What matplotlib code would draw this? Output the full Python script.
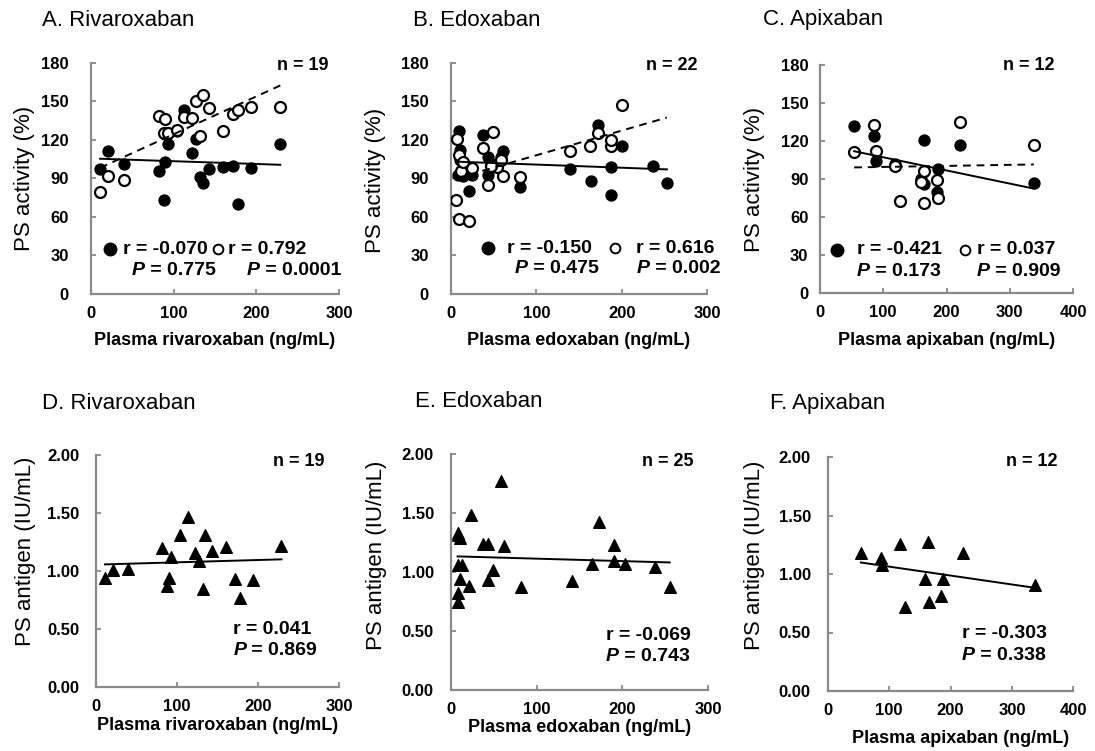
import numpy as np
import matplotlib
matplotlib.use('Agg')
import matplotlib.pyplot as plt

plt.rcParams['font.family'] = ['Liberation Sans', 'DejaVu Sans']

# ---- data ----
# rivaroxaban (A: PS activity, D: PS antigen)
riva_x = [11, 21, 40, 82, 88, 90, 93, 104, 113, 122, 127, 132, 135, 143, 160, 172, 178, 194, 229]
riva_act_filled = [97, 111, 101, 96, 73, 103, 117, 127, 143, 110, 121, 91, 86, 97, 99, 100, 70, 98, 117]
riva_act_open = [79, 92, 89, 139, 125, 136, 125, 128, 138, 137, 150, 123, 155, 145, 127, 140, 143, 146, 146]
riva_antigen = [0.94, 1.01, 1.02, 1.20, 0.87, 0.94, 1.12, 1.31, 1.47, 1.16, 1.09, 0.85, 1.31, 1.17,
                1.21, 0.93, 0.77, 0.92, 1.22]

# edoxaban (B: PS activity)
edo_x_filled = [9, 10, 10, 8, 14, 25, 21, 37, 43, 47, 43, 61, 59, 81, 140, 164, 172, 188, 188, 200, 237, 253]
edo_act_filled = [127, 112, 104, 93, 92, 93, 80, 124, 107, 101, 93, 111, 107, 83, 97, 88, 132, 99, 77, 115, 100, 86]
edo_x_open = [7, 6, 9, 21, 37, 49, 43, 61, 81, 54, 140, 163, 172, 188, 188, 200, 12, 9, 25, 14, 59, 47]
edo_act_open = [121, 73, 58, 57, 114, 126, 85, 92, 91, 99, 111, 115, 125, 115, 120, 147, 96, 108, 98, 103, 104, 100]

# edoxaban (E: PS antigen)
edo_ag_x = [59, 24, 8, 10.5, 38, 44, 62, 8, 13, 49, 10.5, 43, 21, 82, 8, 8, 141, 173, 190, 165, 190, 203,
            238, 255, 9]
edo_antigen = [1.77, 1.48, 1.33, 1.29, 1.24, 1.24, 1.22, 1.06, 1.06, 1.02, 0.94, 0.93, 0.88, 0.87, 0.82,
               0.75, 0.92, 1.42, 1.23, 1.07, 1.09, 1.07, 1.04, 0.87, 1.31]

# apixaban (C: PS activity, F: PS antigen)
apix_x = [54, 86, 88, 118, 126, 159, 164, 165, 185, 187, 221, 338]
apix_act_filled = [132, 124, 104, 102, 73, 90, 121, 86, 80, 98, 117, 87]
apix_act_open = [111, 133, 112, 100, 73, 88, 96, 71, 89, 75, 135, 117]
apix_antigen = [1.18, 1.14, 1.08, 1.26, 0.72, 0.96, 1.27, 0.76, 0.81, 0.96, 1.18, 0.91]

act_ticks = [0, 30, 60, 90, 120, 150, 180]
ag_ticks = [0.0, 0.5, 1.0, 1.5, 2.0]

W, H = 1095.0, 751.0
fig = plt.figure(figsize=(W / 100, H / 100), dpi=100)
GRAY = '#8a8a8a'
STAT = 14


def make_axes(l, r, t, b):
    return fig.add_axes([l / W, 1 - b / H, (r - l) / W, (b - t) / H])


def style(ax, xmax, ymax, yticks, yfmt, ypad):
    ax.set_xlim(0, xmax)
    ax.set_ylim(0, ymax)
    ax.set_xticks(np.arange(0, xmax + 1, 100))
    ax.set_yticks(yticks)
    ax.set_yticklabels([yfmt % v for v in yticks])
    for s in ['top', 'right']:
        ax.spines[s].set_visible(False)
    for s in ['left', 'bottom']:
        ax.spines[s].set_color(GRAY)
        ax.spines[s].set_linewidth(1.6)
    ax.tick_params(direction='in', length=3.5, width=1.3, color=GRAY, labelsize=12)
    ax.tick_params(axis='x', pad=8.5)
    ax.tick_params(axis='y', pad=ypad)
    for lab in ax.get_xticklabels() + ax.get_yticklabels():
        lab.set_fontweight('bold')


def trend(ax, x, y, dashed=False, xr=None):
    x = np.asarray(x, float)
    y = np.asarray(y, float)
    k, b = np.polyfit(x, y, 1)
    if xr is None:
        xr = x
    xs = np.array([min(xr), max(xr)])
    if dashed:
        ax.plot(xs, k * xs + b, color='black', lw=1.4, ls=(0, (4, 3)), zorder=4)
    else:
        ax.plot(xs, k * xs + b, color='black', lw=1.4, zorder=4)


def ptext(ax, x, y, val):
    t = ax.text(x, y, 'P', transform=ax.transAxes, ha='left', va='center',
                fontsize=STAT, fontweight='bold', fontstyle='italic')
    ax.annotate(' = ' + val, xy=(1, 0.5), xycoords=t, ha='left', va='center',
                fontsize=STAT, fontweight='bold')


def rtext(ax, x, y, s, size=STAT):
    ax.text(x, y, s, transform=ax.transAxes, ha='left', va='center', fontsize=size, fontweight='bold')


def circles(ax, x, y, open_=False):
    if open_:
        ax.scatter(x, y, s=62, facecolors='white', edgecolors='black', linewidths=1.6, zorder=3)
    else:
        ax.scatter(x, y, s=62, color='black', zorder=3)


def legend_dot(ax, x, y, open_=False):
    if open_:
        ax.plot([x], [y], 'o', ms=7, mfc='white', mec='black', mew=1.4, transform=ax.transAxes, clip_on=False)
    else:
        ax.plot([x], [y], 'o', ms=9, color='black', transform=ax.transAxes, clip_on=False)


def labels(ax, ylab, xlab, ylx, yly, xlx, xly):
    ax.set_ylabel(ylab, fontsize=16)
    ax.yaxis.set_label_coords(ylx, yly)
    ax.set_xlabel(xlab, fontsize=13, fontweight='bold')
    ax.xaxis.set_label_coords(xlx, xly)


# ---------- A ----------
axA = make_axes(91, 339, 63, 293.7)
style(axA, 300, 180, act_ticks, '%d', 16)
circles(axA, riva_x, riva_act_filled)
circles(axA, riva_x, riva_act_open, open_=True)
trend(axA, riva_x, riva_act_filled)
trend(axA, riva_x, riva_act_open, dashed=True)
legend_dot(axA, 0.077, 0.192)
rtext(axA, 0.129, 0.192, 'r = -0.070')
legend_dot(axA, 0.512, 0.192, open_=True)
rtext(axA, 0.552, 0.192, 'r = 0.792')
ptext(axA, 0.165, 0.10, '0.775')
ptext(axA, 0.629, 0.10, '0.0001')
rtext(axA, 0.75, 0.99, 'n = 19', 13)
labels(axA, 'PS activity (%)', 'Plasma rivaroxaban (ng/mL)', -0.227, 0.5, 0.5, -0.164)

# ---------- B ----------
axB = make_axes(451, 707, 63, 293.7)
style(axB, 300, 180, act_ticks, '%d', 16)
circles(axB, edo_x_filled, edo_act_filled)
circles(axB, edo_x_open, edo_act_open, open_=True)
edo_range = edo_x_filled + edo_x_open
trend(axB, edo_x_filled, edo_act_filled, xr=edo_range)
trend(axB, edo_x_open, edo_act_open, dashed=True, xr=edo_range)
legend_dot(axB, 0.146, 0.197)
rtext(axB, 0.217, 0.197, 'r = -0.150')
legend_dot(axB, 0.64, 0.197, open_=True)
rtext(axB, 0.723, 0.197, 'r = 0.616')
ptext(axB, 0.25, 0.11, '0.475')
ptext(axB, 0.725, 0.11, '0.002')
rtext(axB, 0.762, 0.99, 'n = 22', 13)
labels(axB, 'PS activity (%)', 'Plasma edoxaban (ng/mL)', -0.254, 0.49, 0.5, -0.164)

# ---------- C ----------
axC = make_axes(820, 1073, 65, 293)
style(axC, 400, 180, act_ticks, '%d', 8.4)
circles(axC, apix_x, apix_act_filled)
circles(axC, apix_x, apix_act_open, open_=True)
trend(axC, apix_x, apix_act_filled)
trend(axC, apix_x, apix_act_open, dashed=True)
legend_dot(axC, 0.066, 0.189)
rtext(axC, 0.145, 0.189, 'r = -0.421')
legend_dot(axC, 0.573, 0.189, open_=True)
rtext(axC, 0.619, 0.189, 'r = 0.037')
ptext(axC, 0.145, 0.093, '0.173')
ptext(axC, 0.619, 0.093, '0.909')
rtext(axC, 0.722, 1.0, 'n = 12', 13)
labels(axC, 'PS activity (%)', 'Plasma apixaban (ng/mL)', -0.219, 0.5, 0.5, -0.169)

# ---------- D ----------
axD = make_axes(96, 339, 455, 687.3)
style(axD, 300, 2.0, ag_ticks, '%.2f', 12.2)
axD.scatter(riva_x, riva_antigen, marker='^', s=70, color='black', zorder=3)
trend(axD, riva_x, riva_antigen)
rtext(axD, 0.565, 0.25, 'r = 0.041')
ptext(axD, 0.565, 0.158, '0.869')
rtext(axD, 0.727, 0.971, 'n = 19', 13)
labels(axD, 'PS antigen (IU/mL)', 'Plasma rivaroxaban (ng/mL)', -0.246, 0.584, 0.5, -0.126)

# ---------- E ----------
axE = make_axes(450.7, 708.3, 454, 690)
style(axE, 300, 2.0, ag_ticks, '%.2f', 12.2)
axE.scatter(edo_ag_x, edo_antigen, marker='^', s=70, color='black', zorder=3)
trend(axE, edo_ag_x, edo_antigen)
rtext(axE, 0.603, 0.233, 'r = -0.069')
ptext(axE, 0.603, 0.141, '0.743')
rtext(axE, 0.744, 0.967, 'n = 25', 13)
labels(axE, 'PS antigen (IU/mL)', 'Plasma edoxaban (ng/mL)', -0.247, 0.572, 0.5, -0.125)

# ---------- F ----------
axF = make_axes(827.7, 1073.3, 457, 691)
style(axF, 400, 2.0, ag_ticks, '%.2f', 12.2)
axF.scatter(apix_x, apix_antigen, marker='^', s=70, color='black', zorder=3)
trend(axF, apix_x, apix_antigen)
rtext(axF, 0.546, 0.244, 'r = -0.303')
ptext(axF, 0.546, 0.15, '0.338')
rtext(axF, 0.726, 0.98, 'n = 12', 13)
labels(axF, 'PS antigen (IU/mL)', 'Plasma apixaban (ng/mL)', -0.257, 0.578, 0.54, -0.165)

# panel titles
for x, y, s in [(41.7, 20, 'A. Rivaroxaban'), (413.3, 20, 'B. Edoxaban'), (763.3, 20, 'C. Apixaban'),
                (41.7, 403.3, 'D. Rivaroxaban'), (415, 401.7, 'E. Edoxaban'), (770, 403.3, 'F. Apixaban')]:
    fig.text(x / W, 1 - y / H, s, ha='left', va='center', fontsize=16)

fig.savefig('out.png', dpi=100)
